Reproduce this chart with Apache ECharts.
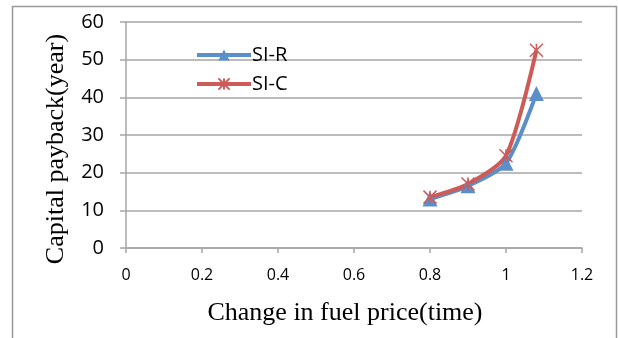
<!DOCTYPE html>
<html>
<head>
<meta charset="utf-8">
<script src="https://cdn.jsdelivr.net/npm/echarts@6/dist/echarts.min.js"></script>
<style>
  html, body { margin: 0; padding: 0; background: #fff; }
  #container { width: 618px; height: 338px; }
</style>
</head>
<body>
<div id="container"></div>
<script>
var fuelPrice = [0.8, 0.9, 1.0, 1.08];
var siR = [13, 16.5, 22.5, 41];
var siC = [13.5, 17, 24.5, 52.5];
var xTicks = [0, 0.2, 0.4, 0.6, 0.8, 1, 1.2];
var yTicks = [0, 10, 20, 30, 40, 50, 60];

function pairs(xs, ys) {
    return xs.map(function (x, i) { return [x, ys[i]]; });
}

var dom = document.getElementById("container");
var myChart = echarts.init(dom);

var gridColor = '#a6a6a6';
var tickFont = '"Open Sans", "Liberation Sans", sans-serif';
var nameFont = '"Liberation Serif", "Times New Roman", serif';

var option = {
    animation: false,
    graphic: [{
        type: 'rect',
        shape: { x: 12.5, y: 6.5, width: 604, height: 340 },
        style: { fill: 'none', stroke: '#9a9a9a', lineWidth: 1.5 },
        silent: true
    }],
    grid: { left: 126, right: 36, top: 22, bottom: 90 },
    legend: {
        left: 195,
        top: 45,
        padding: 0,
        orient: 'vertical',
        itemWidth: 54,
        itemHeight: 14,
        itemGap: 9,
        lineStyle: { width: 4 },
        textStyle: { fontFamily: tickFont, fontSize: 20, color: '#000', padding: [0, 0, 0, -4] },
        data: ['SI-R', 'SI-C']
    },
    xAxis: {
        type: 'value',
        min: 0, max: 1.2, interval: 0.2,
        name: 'Change in fuel price(time)',
        nameLocation: 'middle',
        nameGap: 52,
        nameTextStyle: { fontFamily: nameFont, fontSize: 26, color: '#000', padding: [0, 18, 0, 0] },
        axisLine: { lineStyle: { color: gridColor, width: 1.5 } },
        axisTick: { show: true, length: 5, lineStyle: { color: gridColor, width: 1.5 } },
        axisLabel: {
            fontFamily: tickFont, fontSize: 16, color: '#000', margin: 19,
            formatter: function (v) { return xTicks.indexOf(+v.toFixed(1)) >= 0 ? String(+v.toFixed(1)) : ''; }
        },
        splitLine: { show: false }
    },
    yAxis: {
        type: 'value',
        min: 0, max: 60, interval: 10,
        name: 'Capital payback(year)',
        nameLocation: 'middle',
        nameGap: 57,
        nameTextStyle: { fontFamily: nameFont, fontSize: 26, color: '#000', padding: [0, 28, 0, 0] },
        axisLine: { show: true, lineStyle: { color: gridColor, width: 1.5 } },
        axisTick: { show: true, length: 6, lineStyle: { color: gridColor, width: 1.5 } },
        axisLabel: {
            fontFamily: tickFont, fontSize: 20, color: '#000', margin: 22,
            formatter: function (v) { return yTicks.indexOf(v) >= 0 ? String(v) : ''; }
        },
        splitLine: { lineStyle: { color: gridColor, width: 1.5 } }
    },
    series: [{
        name: 'SI-R',
        type: 'line',
        smooth: 0.25,
        data: pairs(fuelPrice, siR),
        symbol: 'triangle',
        symbolSize: 15,
        lineStyle: { color: '#5b8fc9', width: 4 },
        itemStyle: { color: '#5b8fc9' }
    }, {
        name: 'SI-C',
        type: 'line',
        smooth: 0.25,
        data: pairs(fuelPrice, siC),
        symbol: 'path://M0,0 L10,10 M10,0 L0,10 M5,0 L5,10',
        symbolSize: 13,
        lineStyle: { color: '#cd5b58', width: 4 },
        itemStyle: { color: 'rgba(0,0,0,0)', borderColor: '#cd5b58', borderWidth: 1.5 }
    }]
};

if (option && typeof option === "object") {
    myChart.setOption(option, true);
}
</script>
</body>
</html>
